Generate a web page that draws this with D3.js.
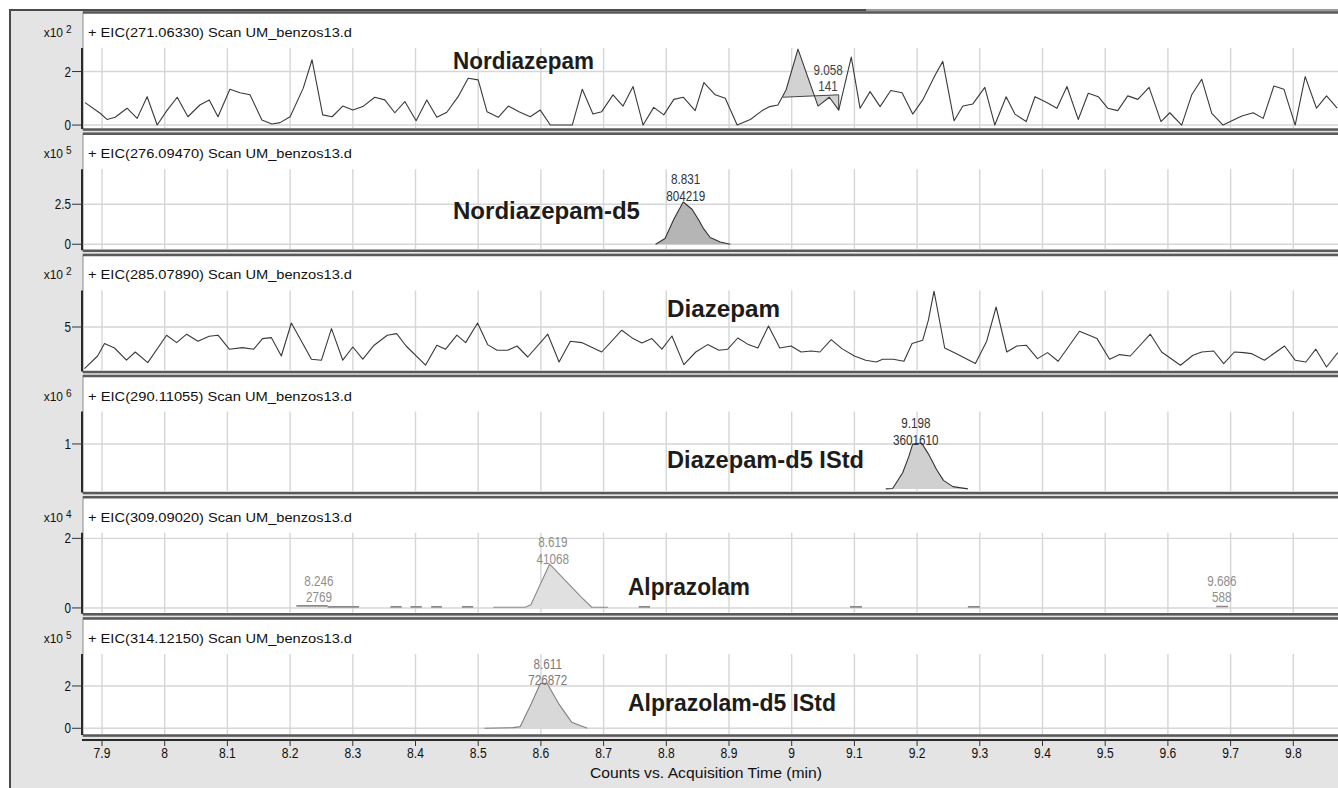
<!DOCTYPE html>
<html><head><meta charset="utf-8">
<script src="https://cdn.jsdelivr.net/npm/d3@7"></script>
<style>body{margin:0;background:#fff}svg{display:block}</style>
</head><body><svg id="c" width="1338" height="788"></svg>
<script>
// ---------- data ----------
const xTickValues = [7.9,8.0,8.1,8.2,8.3,8.4,8.5,8.6,8.7,8.8,8.9,9.0,9.1,9.2,9.3,9.4,9.5,9.6,9.7,9.8];
const xTickLabels = ["7.9","8","8.1","8.2","8.3","8.4","8.5","8.6","8.7","8.8","8.9","9","9.1","9.2","9.3","9.4","9.5","9.6","9.7","9.8"];
const xAxisTitle = "Counts vs. Acquisition Time (min)";

const headers = [
  "+ EIC(271.06330) Scan UM_benzos13.d",
  "+ EIC(276.09470) Scan UM_benzos13.d",
  "+ EIC(285.07890) Scan UM_benzos13.d",
  "+ EIC(290.11055) Scan UM_benzos13.d",
  "+ EIC(309.09020) Scan UM_benzos13.d",
  "+ EIC(314.12150) Scan UM_benzos13.d"
];
const exponents = [2,5,2,6,4,5];
const compounds = ["Nordiazepam","Nordiazepam-d5","Diazepam","Diazepam-d5 IStd","Alprazolam","Alprazolam-d5 IStd"];
const yDomains = [[-0.11,2.88],[-0.31,4.69],[2.83,6.83],[-0.06,1.72],[-0.14,2.16],[-0.27,3.51]];
const yTickValues = [[0,2],[0,2.5],[5],[1],[0,2],[0,2]];
const yTickLabels = [["0","2"],["0","2.5"],["5"],["1"],["0","2"],["0","2"]];

// Nordiazepam trace (x10^2 counts)
const nordT = [7.873,7.897,7.908,7.921,7.940,7.956,7.972,7.988,8.004,8.020,
 8.037,8.056,8.071,8.085,8.104,8.120,8.136,8.155,8.171,8.184,
 8.200,8.221,8.235,8.252,8.267,8.284,8.300,8.316,8.335,8.351,
 8.367,8.383,8.401,8.418,8.434,8.450,8.468,8.484,8.500,8.514,
 8.532,8.548,8.565,8.583,8.599,8.615,8.632,8.650,8.666,8.683,
 8.697,8.715,8.731,8.747,8.763,8.780,8.796,8.812,8.827,8.846,
 8.860,8.878,8.894,8.913,8.934,8.953,8.965,8.978,8.991,9.010,
 9.042,9.060,9.075,9.095,9.109,9.125,9.141,9.158,9.176,9.193,
 9.209,9.229,9.241,9.259,9.273,9.289,9.308,9.324,9.342,9.356,
 9.374,9.388,9.406,9.423,9.439,9.457,9.473,9.489,9.504,9.520,
 9.536,9.552,9.570,9.589,9.603,9.622,9.638,9.654,9.670,9.688,
 9.702,9.718,9.736,9.752,9.769,9.785,9.803,9.819,9.837,9.853,9.870];
const nordV = [0.84,0.44,0.21,0.29,0.63,0.25,1.06,0.00,0.56,1.04,
 0.31,0.75,0.94,0.31,1.34,1.21,1.13,0.19,0.04,0.09,
 0.31,1.38,2.44,0.38,0.31,0.71,0.56,0.69,1.04,0.94,
 0.46,0.88,0.16,0.94,0.29,0.48,1.06,1.75,1.69,0.50,
 0.29,0.71,0.50,0.31,0.56,0.00,0.00,0.00,1.34,0.41,
 0.50,1.13,0.71,1.44,0.00,0.66,0.38,0.96,1.04,0.54,
 1.59,1.13,1.00,0.00,0.21,0.54,0.69,0.75,1.31,2.84,
 0.71,1.04,0.56,2.54,0.63,1.25,0.69,1.29,1.21,0.41,
 0.94,1.88,2.38,0.16,0.71,0.79,1.41,0.00,1.06,0.41,
 0.13,1.06,0.85,0.63,1.44,0.21,1.19,1.06,0.63,0.54,
 1.09,0.96,1.41,0.13,0.46,0.00,1.13,1.71,0.44,0.00,
 0.16,0.34,0.46,0.25,1.46,1.34,0.00,1.81,0.63,1.09,0.63];
// integrated peak: [start, end, baseline at start, baseline at end]
const nordPeak = [8.986, 9.075, 1.04, 1.13];

// Nordiazepam-d5 (x10^5)
const nordD5T = [8.783,8.798,8.812,8.827,8.841,8.851,8.860,8.870,8.886,8.902];
const nordD5V = [0,0.36,1.56,2.64,2.19,1.56,0.94,0.42,0.14,0];

// Diazepam (x10^2)
const diazT = [7.872,7.893,7.904,7.920,7.939,7.953,7.973,8.003,8.019,8.035,
 8.053,8.071,8.085,8.103,8.124,8.142,8.156,8.170,8.186,8.202,
 8.234,8.250,8.266,8.284,8.300,8.316,8.334,8.355,8.370,8.385,
 8.416,8.434,8.448,8.466,8.480,8.499,8.515,8.530,8.547,8.562,
 8.579,8.611,8.629,8.647,8.665,8.697,8.729,8.747,8.761,8.777,
 8.793,8.809,8.828,8.847,8.866,8.884,8.898,8.914,8.931,8.946,
 8.963,8.981,8.999,9.015,9.031,9.045,9.063,9.080,9.100,9.118,
 9.135,9.145,9.162,9.179,9.192,9.209,9.218,9.227,9.244,9.262,
 9.293,9.311,9.326,9.343,9.359,9.374,9.392,9.408,9.425,9.459,
 9.487,9.507,9.523,9.540,9.572,9.590,9.620,9.640,9.654,9.673,
 9.689,9.706,9.721,9.733,9.754,9.786,9.803,9.820,9.836,9.853,9.871];
const diazV = [2.92,3.55,4.17,3.95,3.34,3.75,3.22,4.59,4.22,4.64,
 4.29,4.54,4.59,3.89,3.97,3.89,4.42,4.47,3.55,5.20,
 3.39,3.34,4.92,3.34,4.00,3.39,4.09,4.59,4.67,4.05,
 3.09,4.09,3.89,4.59,4.22,5.20,4.12,3.84,3.84,4.05,
 3.50,4.64,3.25,4.29,4.22,3.75,4.84,4.42,4.20,4.42,
 3.89,4.55,3.12,3.75,4.12,3.84,3.89,4.45,4.12,3.95,
 5.05,3.95,4.05,3.75,3.80,3.75,4.37,3.92,3.55,3.34,
 3.25,3.39,3.39,3.29,4.17,4.34,5.34,6.79,3.95,3.67,
 3.17,4.29,6.00,3.75,4.05,4.09,3.42,3.72,3.29,4.79,
 4.42,3.39,3.62,3.55,4.64,3.75,3.09,3.59,3.75,3.80,
 3.17,3.75,3.72,3.67,3.34,4.05,3.34,3.25,3.89,3.00,3.72];

// Diazepam-d5 (x10^6)
const diazD5T = [9.150,9.161,9.177,9.187,9.193,9.207,9.218,9.231,9.242,9.257,9.281];
const diazD5V = [0,0.01,0.36,0.73,1.0,1.02,0.78,0.43,0.19,0.05,0];

// Alprazolam (x10^4)
const alpT = [8.524,8.575,8.584,8.614,8.664,8.681,8.707];
const alpV = [0.02,0.02,0.09,1.26,0.32,0.02,0.02];
const alpPeak = [8.575, 8.681];
const alpMinorStart = [8.210,8.260,8.360,8.392,8.425,8.474,8.756,9.093,9.281,9.677];
const alpMinorEnd   = [8.260,8.310,8.378,8.410,8.442,8.492,8.774,9.112,9.300,9.696];
const alpMinorLevel = [0.06,0.03,0.03,0.03,0.03,0.03,0.03,0.03,0.03,0.04];

// Alprazolam-d5 (x10^5)
const alpD5T = [8.510,8.556,8.567,8.585,8.599,8.610,8.628,8.649,8.674];
const alpD5V = [0,0.03,0.08,1.18,2.12,2.12,1.18,0.29,0];

// peak annotations: RT and area text
const peakRT    = [[9.058],[8.831],[],[9.198],[8.619,8.246,9.686],[8.611]];
const peakRTTxt = [["9.058"],["8.831"],[],["9.198"],["8.619","8.246","9.686"],["8.611"]];
const peakArea  = [["141"],["804219"],[],["3601610"],["41068","2769","588"],["726872"]];

// ---------- layout / style ----------
const W = 1338, H = 788;
const L = {top0:12, step:121.2, panelH:118, plotTop:36, plotBottom:116, left:83, right:1340, axisY:740};
const labelPos = [ // compound label: left x, baseline offset from panel top, width
  {x:453, dy:57, w:141}, {x:453, dy:86, w:187}, {x:667, dy:63, w:113},
  {x:667, dy:92, w:197}, {x:628, dy:98, w:122}, {x:628, dy:93, w:208}];
const annoDy = [[63,79],[51,68],[],[52,69],[[50,67],[89,105],[89,105]],[51,67]];
const annoColor = ["#444","#333","#333","#333","#8e8e8e","#7a7a7a"];

const sans = "'Liberation Sans',Arial,sans-serif";
const NARROW = 0.78;

const svg = d3.select("#c");
const x = d3.scaleLinear().domain([7.9, 9.8]).range([102, 1293.3]);

// condensed text: Liberation Sans squeezed horizontally
function narrowText(parent, px, py, str, size, anchor, fill, weight) {
  return parent.append("text")
    .attr("transform", `translate(${px},${py}) scale(${NARROW},1)`)
    .attr("text-anchor", anchor || "start")
    .attr("font-family", sans).attr("font-size", size)
    .attr("font-weight", weight || "normal")
    .attr("fill", fill || "#111").text(str);
}

svg.append("rect").attr("width", W).attr("height", H).attr("fill", "#fff");
svg.append("rect").attr("x", 10).attr("y", 10).attr("width", W - 10).attr("height", H - 10).attr("fill", "#e4e4e4");
svg.append("line").attr("x1", 10).attr("x2", 10).attr("y1", 9).attr("y2", H).attr("stroke", "#4a4a4a").attr("stroke-width", 2);
svg.append("line").attr("x1", 9).attr("x2", 866).attr("y1", 10).attr("y2", 10).attr("stroke", "#4a4a4a").attr("stroke-width", 2);
svg.append("line").attr("x1", 866).attr("x2", W).attr("y1", 10).attr("y2", 10).attr("stroke", "#9a9a9a").attr("stroke-width", 2);

const traces = [
  {t: nordT, v: nordV, color: "#3a3a3a", w: 1.1},
  {t: nordD5T, v: nordD5V, color: "#333", w: 1.1},
  {t: diazT, v: diazV, color: "#3a3a3a", w: 1.1},
  {t: diazD5T, v: diazD5V, color: "#333", w: 1.1},
  {t: alpT, v: alpV, color: "#8a8a8a", w: 1.1},
  {t: alpD5T, v: alpD5V, color: "#808080", w: 1.1}
];
const fills = ["#d2d2d2", "#b5b5b5", null, "#d0d0d0", "#e0e0e0", "#d8d8d8"];

headers.forEach((hdr, i) => {
  const top = L.top0 + i * L.step;
  const y = d3.scaleLinear().domain(yDomains[i]).range([top + L.plotBottom, top + L.plotTop]);
  const g = svg.append("g");
  const clipId = "clip" + i;
  g.append("clipPath").attr("id", clipId).append("rect")
    .attr("x", L.left + 1).attr("y", top + 2).attr("width", L.right - L.left).attr("height", L.panelH - 4);

  // panel box
  g.append("rect").attr("x", L.left).attr("y", top).attr("width", L.right - L.left).attr("height", L.panelH)
    .attr("fill", "#fff").attr("stroke", "#8c8c8c").attr("stroke-width", 1);
  g.append("line").attr("x1", L.left).attr("x2", L.right).attr("y1", top + 0.5).attr("y2", top + 0.5)
    .attr("stroke", "#5a5a5a").attr("stroke-width", 2.5);
  g.append("line").attr("x1", L.left).attr("x2", L.right).attr("y1", top + L.panelH - 0.5).attr("y2", top + L.panelH - 0.5)
    .attr("stroke", "#5a5a5a").attr("stroke-width", 2.5);

  const pg = g.append("g").attr("clip-path", `url(#${clipId})`);
  // grid
  pg.selectAll("line.vg").data(xTickValues).enter().append("line")
    .attr("x1", d => x(d)).attr("x2", d => x(d))
    .attr("y1", top + L.plotTop).attr("y2", top + L.panelH - 2)
    .attr("stroke", "#d6d6d6").attr("stroke-width", 1.4);
  pg.selectAll("line.hg").data(yTickValues[i]).enter().append("line")
    .attr("x1", L.left).attr("x2", L.right).attr("y1", d => y(d)).attr("y2", d => y(d))
    .attr("stroke", "#d6d6d6").attr("stroke-width", 1.4);

  const tr = traces[i];
  const pts = d3.zip(tr.t, tr.v);

  // integrated peak fill
  if (i === 0) {
    const [s, e, bs, be] = nordPeak;
    const interp = (t) => { const k = d3.bisectLeft(tr.t, t); const t0 = tr.t[k-1], t1 = tr.t[k];
      return tr.v[k-1] + (tr.v[k] - tr.v[k-1]) * (t - t0) / (t1 - t0); };
    const base = d3.scaleLinear().domain([s, e]).range([bs, be]);
    const fp = [[s, interp(s)]].concat(pts.filter(p => p[0] > s && p[0] < e)).concat([[e, interp(e)]]);
    pg.append("path").datum(fp).attr("fill", fills[i])
      .attr("d", d3.area().x(d => x(d[0])).y0(d => y(base(d[0]))).y1(d => y(d[1])));
    pg.append("line").attr("x1", x(s)).attr("x2", x(e)).attr("y1", y(bs)).attr("y2", y(be))
      .attr("stroke", "#444").attr("stroke-width", 1);
    pg.append("line").attr("x1", x(e)).attr("x2", x(e)).attr("y1", y(be)).attr("y2", y(interp(e)))
      .attr("stroke", "#444").attr("stroke-width", 1);
  } else if (fills[i]) {
    let fp = pts;
    if (i === 4) fp = pts.filter(p => p[0] >= alpPeak[0] && p[0] <= alpPeak[1]);
    pg.append("path").datum(fp).attr("fill", fills[i])
      .attr("d", d3.area().x(d => x(d[0])).y0(y(0)).y1(d => y(d[1])));
  }
  if (i === 4) {
    pg.selectAll("line.minor").data(d3.zip(alpMinorStart, alpMinorEnd, alpMinorLevel)).enter().append("line")
      .attr("x1", d => x(d[0])).attr("x2", d => x(d[1])).attr("y1", d => y(d[2])).attr("y2", d => y(d[2]))
      .attr("stroke", "#8a8a8a").attr("stroke-width", 1.6);
  }
  pg.append("path").datum(pts).attr("fill", "none").attr("stroke", tr.color).attr("stroke-width", tr.w)
    .attr("stroke-linejoin", "round")
    .attr("d", d3.line().x(d => x(d[0])).y(d => y(d[1])));

  // y axis
  g.append("line").attr("x1", 82).attr("x2", 82).attr("y1", top + L.plotTop).attr("y2", top + L.panelH - 1)
    .attr("stroke", "#2a2a2a").attr("stroke-width", 2);
  yTickValues[i].forEach((v, k) => {
    g.append("line").attr("x1", 72).attr("x2", 82).attr("y1", y(v)).attr("y2", y(v)).attr("stroke", "#333").attr("stroke-width", 1);
    narrowText(g, 71, y(v) + 5, yTickLabels[i][k], 15, "end", "#111");
  });

  // header + multiplier
  g.append("text").attr("x", 88).attr("y", top + 25).attr("font-family", sans).attr("font-size", 12.5)
    .attr("fill", "#111").attr("textLength", 264).attr("lengthAdjust", "spacingAndGlyphs").text(hdr);
  g.append("text").attr("x", 63).attr("y", top + 25).attr("text-anchor", "end").attr("font-family", sans)
    .attr("font-size", 12).attr("fill", "#111").text("x10");
  g.append("text").attr("x", 66).attr("y", top + 21).attr("font-family", sans)
    .attr("font-size", 10).attr("fill", "#111").text(exponents[i]);

  // compound label
  const lp = labelPos[i];
  g.append("text").attr("x", lp.x).attr("y", top + lp.dy).attr("font-family", sans).attr("font-weight", "bold")
    .attr("font-size", 23).attr("fill", "#1c1c1c").attr("textLength", lp.w).attr("lengthAdjust", "spacingAndGlyphs")
    .text(compounds[i]);

  // peak annotations
  peakRT[i].forEach((rt, k) => {
    const dy = (i === 4) ? annoDy[i][k] : annoDy[i];
    narrowText(g, x(rt), top + dy[0], peakRTTxt[i][k], 15, "middle", annoColor[i]);
    narrowText(g, x(rt), top + dy[1], peakArea[i][k], 15, "middle", annoColor[i]);
  });
});

// x axis
const ax = svg.append("g");
ax.append("line").attr("x1", 82).attr("x2", W).attr("y1", L.axisY).attr("y2", L.axisY).attr("stroke", "#2a2a2a").attr("stroke-width", 2);
ax.selectAll("line.tk").data(xTickValues).enter().append("line")
  .attr("x1", d => x(d)).attr("x2", d => x(d)).attr("y1", L.axisY).attr("y2", L.axisY + 6)
  .attr("stroke", "#333").attr("stroke-width", 1);
xTickValues.forEach((d, k) => narrowText(ax, x(d), L.axisY + 18, xTickLabels[k], 15.5, "middle", "#111"));
ax.append("text").attr("x", 706).attr("y", 778).attr("text-anchor", "middle")
  .attr("font-family", sans).attr("font-size", 14).attr("fill", "#111")
  .attr("textLength", 232).attr("lengthAdjust", "spacingAndGlyphs").text(xAxisTitle);
</script>
</body></html>
